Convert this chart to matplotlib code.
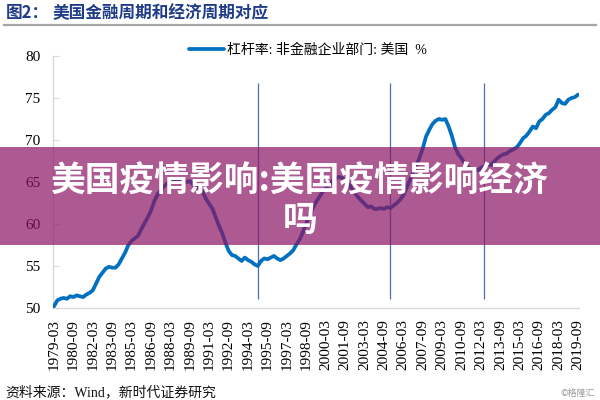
import matplotlib
matplotlib.use("Agg")
import matplotlib.pyplot as plt
from matplotlib.patches import Rectangle
from matplotlib.lines import Line2D

# ---- data -------------------------------------------------------------
series_name = "杠杆率: 非金融企业部门: 美国  %"
leverage = [
    50.2, 50.9, 51.1, 51.2, 51.1, 51.4, 51.3, 51.5, 51.4, 51.3, 51.6, 51.8,   # 1979-1981
    52.1, 52.9, 53.7, 54.2, 54.7, 54.9, 54.8, 54.8, 55.2, 55.9, 56.6, 57.5,   # 1982-1984
    58.0, 58.3, 58.6, 59.4, 60.1, 60.8, 61.6, 62.7, 63.5, 64.0, 64.5, 64.8,   # 1985-1987
    65.0, 65.2, 65.1, 65.3, 65.2, 65.0, 65.1, 64.7, 64.5, 64.3, 63.8, 63.0,   # 1988-1990
    62.4, 61.8, 60.8, 59.8, 58.9, 57.8, 56.8, 56.3, 56.2, 55.9, 55.6, 56.0,   # 1991-1993
    55.7, 55.5, 55.2, 55.0, 55.6, 55.9, 55.8, 56.0, 56.2, 55.9, 55.7, 55.9,   # 1994-1996
    56.2, 56.5, 56.9, 57.6, 58.2, 59.1, 60.1, 61.0, 61.9, 62.6, 63.2, 63.8,   # 1997-1999
    64.2, 64.7, 65.1, 65.4, 65.6, 65.5, 65.2, 64.9, 64.2, 63.7, 63.2, 62.8,   # 2000-2002
    62.4, 62.0, 62.1, 61.8, 61.8, 61.9, 61.8, 62.0, 61.9, 62.2, 62.5, 62.9,   # 2003-2005
    63.4, 64.3, 65.2, 66.1, 66.9, 67.9, 69.0, 70.4, 71.2, 71.9, 72.3, 72.5,   # 2006-2008
    72.4, 72.5, 71.6, 70.5, 69.1, 68.3, 67.8, 67.2, 66.8, 66.5, 66.6, 66.4,   # 2009-2011
    66.7, 66.9, 67.1, 67.0, 67.4, 67.8, 68.1, 68.3, 68.4, 68.7, 68.9, 69.1,   # 2012-2014
    69.6, 70.2, 70.5, 71.0, 71.6, 71.4, 72.2, 72.5, 73.0, 73.2, 73.6, 73.9,   # 2015-2017
    74.8, 74.4, 74.3, 74.8, 75.0, 75.1, 75.4,                                 # 2018-2019Q3
]
tick_labels = [
    "1979-03", "1980-09", "1982-03", "1983-09", "1985-03", "1986-09", "1988-03",
    "1989-09", "1991-03", "1992-09", "1994-03", "1995-09", "1997-03", "1998-09",
    "2000-03", "2001-09", "2003-03", "2004-09", "2006-03", "2007-09", "2009-03",
    "2010-09", "2012-03", "2013-09", "2015-03", "2016-09", "2018-03", "2019-09",
]
tick_step = 6                      # quarters between labelled ticks
cycle_marks = [63, 104, 133]       # quarter index of the vertical cycle lines
cycle_span = (51.1, 76.8)          # vertical extent of those lines
y_ticks = [50, 55, 60, 65, 70, 75, 80]

title_prefix = "图2："
title_text = "美国金融周期和经济周期对应"
source_text = "资料来源：Wind，新时代证券研究"
overlay_text = "美国疫情影响:美国疫情影响经济\n吗"
watermark = "©格隆汇"

# ---- figure -----------------------------------------------------------
SERIF = ["Liberation Serif", "Noto Sans CJK SC"]
CJK = ["Noto Sans CJK SC", "DejaVu Sans"]

fig = plt.figure(figsize=(6, 4), dpi=100)
ax = fig.add_axes([53 / 600, 92 / 400, 526 / 600, 252 / 400])

x = list(range(len(leverage)))
line, = ax.plot(x, leverage, color="#0070C0", lw=2.7, solid_capstyle="round",
                label=series_name, zorder=3)

for q in cycle_marks:
    ax.vlines(q, cycle_span[0], cycle_span[1], color="#4F6FB0", lw=0.9, zorder=2)

ax.set_xlim(-0.3, len(leverage) - 1 + 0.3)
ax.set_ylim(50, 80)
ax.set_yticks(y_ticks)
ax.set_yticklabels([str(v) for v in y_ticks], family=SERIF, fontsize=11)
ax.set_xticks(x[::tick_step])
ax.set_xticklabels(tick_labels, rotation=90, family=SERIF, fontsize=11)

for s in ("top", "right"):
    ax.spines[s].set_visible(False)
for s in ("left", "bottom"):
    ax.spines[s].set_color("#D9D9D9")
    ax.spines[s].set_linewidth(1.0)
ax.tick_params(axis="y", direction="in", length=4, color="#D9D9D9", pad=9)
ax.tick_params(axis="x", length=0, pad=8)

leg = ax.legend(handles=[line], loc="center", bbox_to_anchor=(0.513, 0.875),
                bbox_transform=fig.transFigure, frameon=False,
                handlelength=2.5, handletextpad=0.2,
                prop={"family": SERIF, "size": 10})

# title and rule
fig.text(6 / 600, 1 - 13 / 400, title_prefix, family=CJK, fontsize=12,
         fontweight="bold", color="#1F3C88", va="center", ha="left")
fig.text(53 / 600, 1 - 13 / 400, title_text, family=CJK, fontsize=12,
         fontweight="bold", color="#1F3C88", va="center", ha="left")
fig.add_artist(Line2D([4 / 600, 596 / 600], [1 - 24.5 / 400] * 2,
                      transform=fig.transFigure, color="#A6A6A6", lw=1.6))

# source line and watermark
fig.text(5 / 600, 1 - 392 / 400, source_text, family=SERIF, fontsize=10,
         color="#111111", va="center", ha="left")
fig.text(595 / 600, 1 - 393 / 400, watermark, family=CJK, fontsize=6.5,
         color="#9A9A9A", va="center", ha="right")

# semi-transparent banner with headline
fig.add_artist(Rectangle((0, 1 - 245 / 400), 1, 98 / 400, transform=fig.transFigure,
                         facecolor="#8C1464", alpha=0.7, edgecolor="none", zorder=10))
fig.text(0.5, 1 - 200.5 / 400, overlay_text, family=CJK, fontsize=25,
         fontweight="bold", color="white", ha="center", va="center",
         linespacing=1.15, multialignment="center", zorder=11)

fig.savefig("out.png", dpi=100)
